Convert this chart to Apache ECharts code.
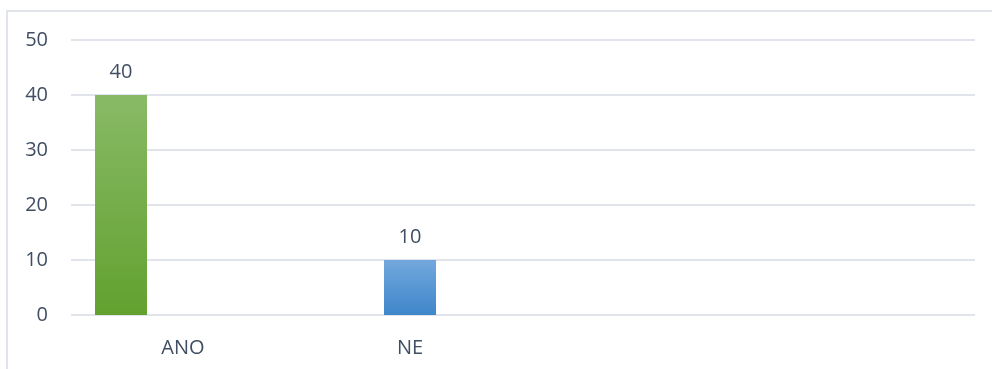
<!DOCTYPE html>
<html>
<head>
<meta charset="utf-8">
<script src="https://cdn.jsdelivr.net/npm/echarts@6/dist/echarts.min.js"></script>
<style>
  html, body { margin: 0; padding: 0; background: #ffffff; }
  #wrap { position: relative; width: 992px; height: 369px; overflow: hidden; }
  #frame { position: absolute; left: 6px; top: 10px; width: 1000px; height: 400px;
           border-top: 2px solid #e1e5eb; border-left: 2px solid #e1e5eb; }
  #chart { position: absolute; left: 0; top: 0; width: 992px; height: 369px; }
</style>
</head>
<body>
<div id="wrap">
  <div id="frame"></div>
  <div id="chart"></div>
</div>
<script>
// Answers and their counts
const categories = ['ANO', 'NE'];
const counts = [40, 10];
const barColors = [
  ['#88ba66', '#62a12f'],
  ['#72a8dd', '#3f86cb']
];
const yMin = 0, yMax = 50, yStep = 10;

const textColor = '#404e63';
const fontFamily = '"Open Sans", "Noto Sans", sans-serif';

const chart = echarts.init(document.getElementById('chart'), null, { renderer: 'canvas' });

const barData = counts.map((v, i) => ({
  value: v,
  itemStyle: {
    color: new echarts.graphic.LinearGradient(0, 0, 0, 1, [
      { offset: 0, color: barColors[i][0] },
      { offset: 1, color: barColors[i][1] }
    ])
  }
}));

chart.setOption({
  animation: false,
  grid: [
    // plot area with value axis and gridlines
    { left: 71, right: 17, top: 40, bottom: 54, outerBoundsMode: 'none', containLabel: false },
    // bar placement band
    { left: -23.5, width: 578, top: 40, bottom: 54, outerBoundsMode: 'none', containLabel: false }
  ],
  xAxis: [
    { gridIndex: 0, type: 'category', data: categories, show: false },
    {
      gridIndex: 1, type: 'category', data: categories,
      axisLine: { show: false }, axisTick: { show: false },
      axisLabel: {
        color: textColor, fontFamily: fontFamily, fontSize: 20, margin: 23,
        formatter: (v, i) => i === 0 ? '{s|' + v + '}' : v,
        rich: { s: { color: textColor, fontFamily: fontFamily, fontSize: 20, padding: [0, 0, 0, 124] } }
      }
    }
  ],
  yAxis: [
    {
      gridIndex: 0, type: 'value', min: yMin, max: yMax, interval: yStep,
      axisLine: { show: false }, axisTick: { show: false },
      axisLabel: { color: textColor, fontFamily: fontFamily, fontSize: 20, margin: 23 },
      splitLine: { lineStyle: { color: '#e1e5eb', width: 2 } }
    },
    {
      gridIndex: 1, type: 'value', min: yMin, max: yMax, interval: yStep, show: false,
      splitLine: { show: false }
    }
  ],
  series: [
    {
      type: 'bar', xAxisIndex: 1, yAxisIndex: 1,
      data: barData, barWidth: 52,
      label: {
        show: true, position: 'top', distance: 13,
        color: textColor, fontFamily: fontFamily, fontSize: 20
      }
    }
  ]
});
</script>
</body>
</html>
